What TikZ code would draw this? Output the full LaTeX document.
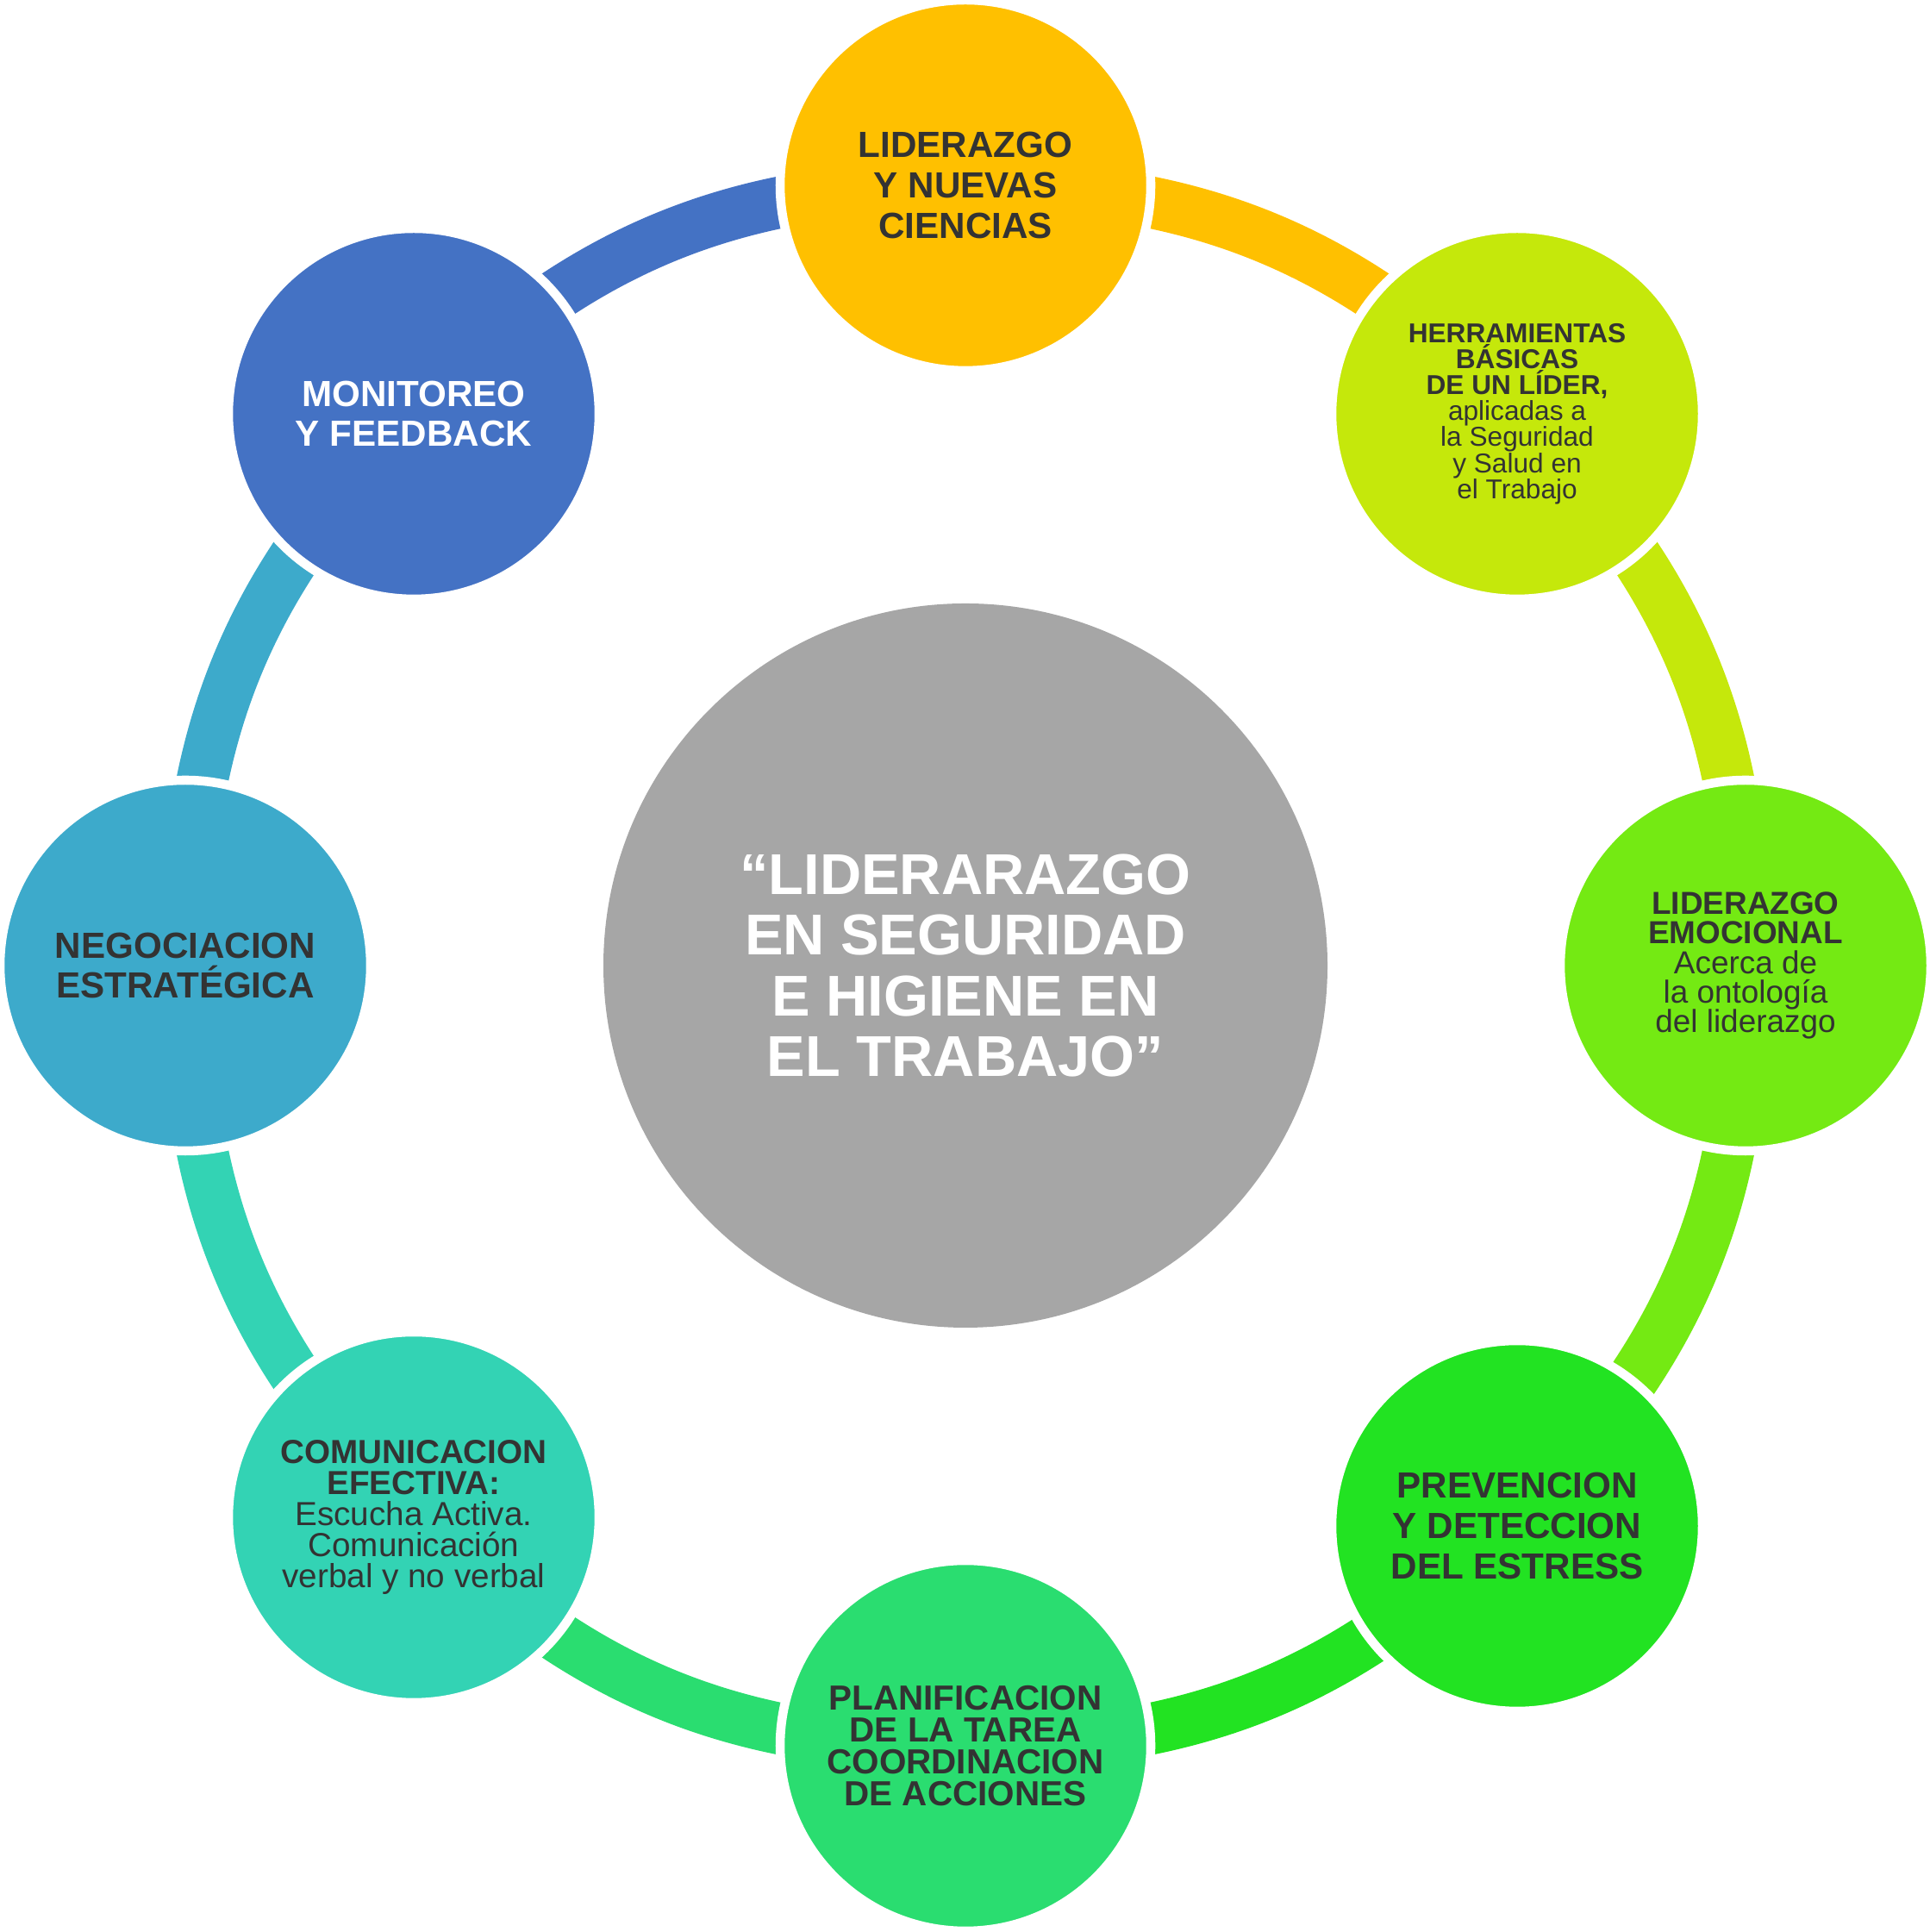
\documentclass[tikz,border=0pt]{standalone}
\usepackage{fontspec}
\setmainfont{Liberation Sans}
\usetikzlibrary{positioning}
\definecolor{cTop}{HTML}{FFC000}
\definecolor{cUR}{HTML}{C5E80B}
\definecolor{cR}{HTML}{74EA13}
\definecolor{cLR}{HTML}{22E322}
\definecolor{cB}{HTML}{2ADD70}
\definecolor{cLL}{HTML}{33D3B4}
\definecolor{cL}{HTML}{3DAACB}
\definecolor{cUL}{HTML}{4472C4}
\definecolor{cMid}{HTML}{A6A6A6}
\definecolor{txt}{HTML}{333333}
\tikzset{
  topic/.style={circle, minimum size=4.3cm, inner sep=0pt, draw=white, line width=3pt, text=txt, align=center, font=\bfseries\fontsize{12}{13.3}\selectfont},
  band/.style={line width=0.6cm}
}
\begin{document}
\begin{tikzpicture}
  \useasboundingbox (0,0) rectangle (22.38,22.41);
  % Positions
  \coordinate (ptop) at (11.2,20.26);
  \coordinate (pur) at (17.6,17.61);
  \coordinate (pr) at (20.25,11.21);
  \coordinate (plr) at (17.6,4.81);
  \coordinate (pb) at (11.2,2.16);
  \coordinate (pll) at (4.8,4.81);
  \coordinate (pl) at (2.15,11.21);
  \coordinate (pul) at (4.8,17.61);

  % Bands
  \draw[band, cTop] (ptop) to[bend left=22.5] (pur);
  \draw[band, cUR] (pur) to[bend left=22.5] (pr);
  \draw[band, cR] (pr) to[bend left=22.5] (plr);
  \draw[band, cLR] (plr) to[bend left=22.5] (pb);
  \draw[band, cB] (pb) to[bend left=22.5] (pll);
  \draw[band, cLL] (pll) to[bend left=22.5] (pl);
  \draw[band, cL] (pl) to[bend left=22.5] (pul);
  \draw[band, cUL] (pul) to[bend left=22.5] (ptop);

  % Nodes
  \node (mid) [circle, fill=cMid, minimum size=8.4cm, inner sep=0pt, text=white, align=center,
    font=\bfseries\fontsize{19}{20}\selectfont] at (11.2,11.21)
    {“LIDERARAZGO\\EN SEGURIDAD\\E HIGIENE EN\\EL TRABAJO”};
  \node (lid) [topic, fill=cTop] at (ptop) {LIDERAZGO\\Y NUEVAS\\CIENCIAS};
  \node (herr) [topic, fill=cUR, font=\fontsize{9}{8.6}\selectfont] at (pur)
    {\textbf{HERRAMIENTAS}\\\textbf{BÁSICAS}\\\textbf{DE UN LÍDER,}\\aplicadas a\\la Seguridad\\y Salud en\\el Trabajo};
  \node (emo) [topic, fill=cR, font=\fontsize{10.5}{9.8}\selectfont] at (pr)
    {\textbf{LIDERAZGO}\\\textbf{EMOCIONAL}\\Acerca de\\la ontología\\del liderazgo};
  \node (prev) [topic, fill=cLR, yshift=-0.1cm] at (plr) {PREVENCION\\Y DETECCION\\DEL ESTRESS};
  \node (plan) [topic, fill=cB, font=\bfseries\fontsize{11.5}{10.6}\selectfont] at (pb)
    {PLANIFICACION\\DE LA TAREA\\COORDINACION\\DE ACCIONES};
  \node (com) [topic, fill=cLL, font=\fontsize{11}{10.3}\selectfont] at (pll)
    {\textbf{COMUNICACION}\\\textbf{EFECTIVA:}\\Escucha Activa.\\Comunicación\\verbal y no verbal};
  \node (neg) [topic, fill=cL] at (pl) {NEGOCIACION\\ESTRATÉGICA};
  \node (mon) [topic, fill=cUL, text=white] at (pul) {MONITOREO\\Y FEEDBACK};
\end{tikzpicture}
\end{document}
